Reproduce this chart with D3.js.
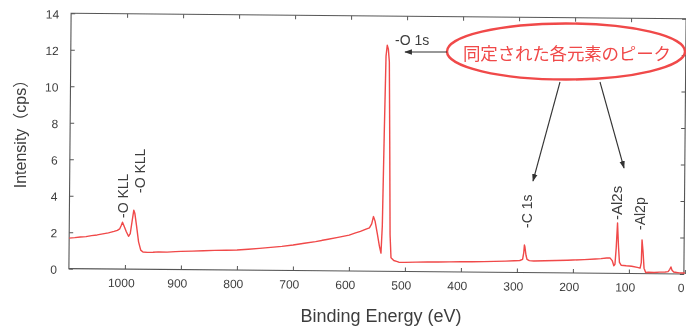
<!DOCTYPE html>
<html><head><meta charset="utf-8">
<script src="https://cdn.jsdelivr.net/npm/d3@7"></script>
<style>body{margin:0;background:#fff;}svg{display:block}</style>
</head><body><svg id="c" width="686" height="329"></svg>
<script>
// ---- data ----
const energy = [1100,1090,1080,1070,1060,1050,1040,1030,1020,1014,1010,1007,1005,1002,998,994,991,988,985,983,980,976,972,968,960,950,940,925,910,900,880,860,840,820,800,780,760,740,720,700,680,660,640,620,600,590,580,570,564,560,557,554,550,546,543,541,539,537,535,533,531,529,527,525,520,515,511,500,480,460,440,420,400,380,360,340,320,305,295,290,288,287,286,284,282,278,270,250,230,210,200,180,160,150,140,134,130,127,125,123,121,119,117,114,105,95,85,80,78,77,75,73,70,65,55,45,35,30,27,25,23,20,15,10,5,0];
const intensity = [1.67,1.70,1.74,1.76,1.82,1.86,1.92,1.98,2.06,2.12,2.20,2.40,2.57,2.35,2.05,1.80,1.95,2.60,3.24,3.05,2.40,1.50,1.05,0.95,0.93,0.94,0.96,0.95,0.98,1.00,1.02,1.04,1.07,1.08,1.10,1.15,1.20,1.26,1.32,1.40,1.50,1.60,1.72,1.84,1.97,2.08,2.18,2.31,2.38,2.60,3.00,2.75,2.10,1.40,1.00,2.50,7.50,11.8,12.4,12.2,11.5,7.0,2.0,0.75,0.60,0.55,0.51,0.50,0.52,0.53,0.54,0.55,0.56,0.57,0.58,0.60,0.62,0.64,0.66,0.72,1.10,1.51,1.40,0.95,0.72,0.66,0.64,0.66,0.68,0.70,0.71,0.74,0.78,0.80,0.84,0.85,0.70,0.42,0.50,1.40,2.76,1.50,0.60,0.45,0.42,0.40,0.34,0.30,0.60,1.85,1.20,0.30,0.06,0.08,0.07,0.09,0.10,0.12,0.25,0.38,0.20,0.10,0.08,0.06,0.05,0.05];
const xTicks = [1000,900,800,700,600,500,400,300,200,100,0];
const yTicks = [0,2,4,6,8,10,12,14];
const xDomain = [1100,0];
const yDomain = [0,14];
const peakLabels = ["-O KLL","-O KLL","-O 1s","-C 1s","-Al2s","-Al2p"];
const calloutText = "同定された各元素のピーク";
const xTitle = "Binding Energy (eV)";
const yTitle = "Intensity（cps）";

// ---- layout ----
const W = 686, H = 329;
const L = 70, R = 685, T = 16, B = 271.3;
const ink = "#3d3d3d", red = "#f04848";
const font = "'Liberation Sans', Arial, 'Noto Sans CJK JP', sans-serif";

const svg = d3.select("#c");
const defs = svg.append("defs");
defs.append("filter").attr("id","soft").append("feGaussianBlur").attr("stdDeviation",0.35);
defs.append("marker").attr("id","ah").attr("viewBox","0 0 10 10").attr("refX",9).attr("refY",5)
  .attr("markerWidth",7).attr("markerHeight",7).attr("orient","auto-start-reverse")
  .append("path").attr("d","M0,1.5L10,5L0,8.5z").attr("fill","#333");

svg.append("rect").attr("width",W).attr("height",H).attr("fill","#fff");
const root = svg.append("g").attr("filter","url(#soft)");

const x = d3.scaleLinear().domain(xDomain).range([L, 686]);
const y = d3.scaleLinear().domain(yDomain).range([B, T]);

// plot body is slightly rotated like the scanned original
const g = root.append("g").attr("transform","rotate(0.5,378,143)");

// axes (inward ticks)
const styleAxis = sel => {
  sel.select(".domain").remove();
  sel.selectAll("line").attr("stroke","#555");
  sel.selectAll("text").attr("fill",ink).style("font-family",font).style("font-size","12px");
};
g.append("g").attr("transform",`translate(0,${B})`)
  .call(d3.axisBottom(x).tickValues(xTicks).tickFormat(d3.format("d")).tickSize(-4).tickPadding(9.5))
  .call(styleAxis).call(s=>s.selectAll("text").attr("x",-4));
g.append("g").attr("transform",`translate(0,${T})`)
  .call(d3.axisTop(x).tickValues(xTicks).tickSize(-4).tickFormat(""))
  .call(styleAxis);
g.append("g").attr("transform",`translate(${L},0)`)
  .call(d3.axisLeft(y).tickValues(yTicks).tickFormat(d3.format("d")).tickSize(-4).tickPadding(12))
  .call(styleAxis).call(s=>s.selectAll("text").attr("y",1));
g.append("g").attr("transform",`translate(${R},0)`)
  .call(d3.axisRight(y).tickValues(yTicks).tickSize(-4).tickFormat(""))
  .call(styleAxis);

g.append("rect").attr("x",L).attr("y",T).attr("width",R-L).attr("height",B-T)
  .attr("fill","none").attr("stroke","#555").attr("stroke-width",1.1);

// spectrum
const pts = energy.map((e,i)=>[e,intensity[i]]);
g.append("path").datum(pts)
  .attr("d", d3.line().x(d=>x(d[0])).y(d=>y(d[1])))
  .attr("fill","none").attr("stroke",red).attr("stroke-width",1.4).attr("stroke-linejoin","round");

// axis titles
root.append("text").attr("x",381).attr("y",322).attr("text-anchor","middle")
  .attr("fill",ink).style("font-family",font).style("font-size","18px").text(xTitle);
root.append("text").attr("transform","translate(26,130) rotate(-90)").attr("text-anchor","middle")
  .attr("fill",ink).style("font-family",font).style("font-size","16px").text(yTitle);

// peak labels (rotated)
const rotLabelPos = [[128,218],[145,193],null,[532,228],[622,220],[645,230]];
peakLabels.forEach((t,i)=>{
  const p = rotLabelPos[i];
  if(!p) return;
  root.append("text").attr("transform",`translate(${p[0]},${p[1]}) rotate(-90)`)
    .attr("fill",ink).style("font-family",font).style("font-size", i===4?"15px":"14px").text(t);
});
root.append("text").attr("x",395).attr("y",45).attr("fill",ink)
  .style("font-family",font).style("font-size","14px").text(peakLabels[2]);

// callout
root.append("ellipse").attr("cx",566).attr("cy",51.5).attr("rx",119).attr("ry",28)
  .attr("fill","none").attr("stroke",red).attr("stroke-width",2.4);
root.append("text").attr("x",567).attr("y",52).attr("text-anchor","middle").attr("dominant-baseline","central")
  .attr("fill",red).style("font-family","'Noto Sans CJK JP', sans-serif").style("font-size","17.5px")
  .attr("textLength",208).text(calloutText);
const arrows = [[447,52,405,52],[560,82,533,181],[600,82,624,168]];
arrows.forEach(a=>{
  root.append("line").attr("x1",a[0]).attr("y1",a[1]).attr("x2",a[2]).attr("y2",a[3])
    .attr("stroke","#333").attr("stroke-width",1.1).attr("marker-end","url(#ah)");
});
</script></body></html>
